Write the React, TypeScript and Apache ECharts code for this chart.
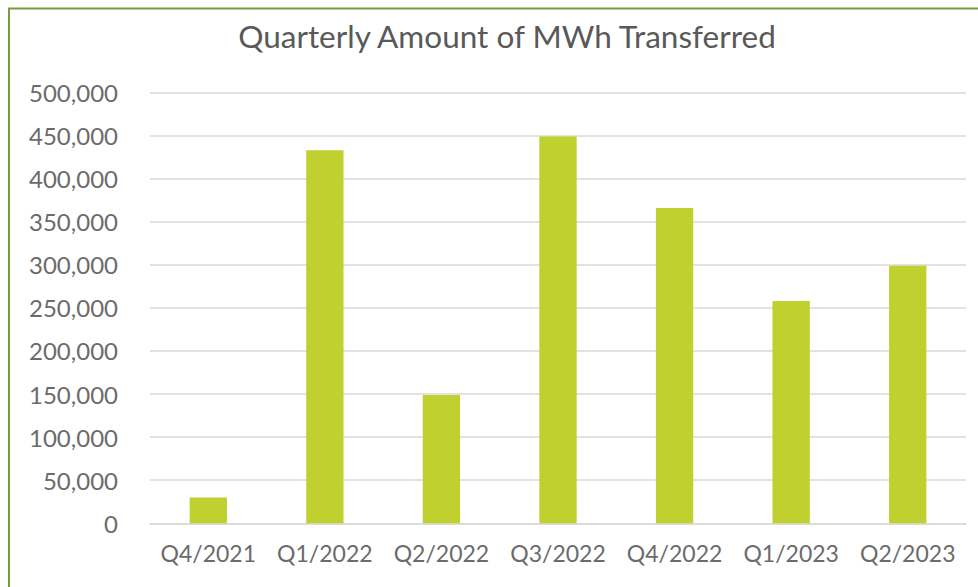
import React, { useEffect, useRef } from "react";
import * as echarts from "echarts";

const categories = ["Q4/2021", "Q1/2022", "Q2/2022", "Q3/2022", "Q4/2022", "Q1/2023", "Q2/2023"];
const mwhValues = [30000, 433000, 149000, 449000, 366000, 258000, 299000];
const yTicks = { min: 0, max: 500000, interval: 50000 };
const titleText = "Quarterly Amount of MWh Transferred";

export default function App() {
  const ref = useRef<HTMLDivElement>(null);
  useEffect(() => {
    if (!ref.current) return;
    const chart = echarts.init(ref.current, null, { renderer: "svg" });
    chart.setOption({
      animation: false,
      backgroundColor: "#ffffff",
      title: {
        text: titleText,
        left: 502,
        textAlign: "center",
        top: 15,
        textStyle: { fontFamily: "Lato", fontSize: 31.5, fontWeight: "normal", color: "#595959" },
      },
      graphic: [
        {
          type: "rect",
          shape: { x: 9, y: 8.5, width: 1000, height: 620 },
          style: { fill: "none", stroke: "#7a9a3c", lineWidth: 2 },
          silent: true,
        },
      ],
      grid: { left: 150, right: 12, top: 92.5, bottom: 63.7 },
      xAxis: {
        type: "category",
        data: categories,
        axisTick: { show: false },
        axisLine: { lineStyle: { color: "#d9d9d9", width: 1.5 } },
        axisLabel: { color: "#6b6b6b", fontFamily: "Lato", fontSize: 23, margin: 18, interval: 0 },
      },
      yAxis: {
        type: "value",
        min: yTicks.min,
        max: yTicks.max,
        interval: yTicks.interval,
        axisLine: { show: false },
        axisTick: { show: false },
        splitLine: { lineStyle: { color: "#d9d9d9", width: 1.5 } },
        axisLabel: {
          color: "#6b6b6b",
          fontFamily: "Lato",
          fontSize: 24,
          margin: 32,
          formatter: (v: number) => v.toLocaleString("en-US"),
        },
      },
      series: [
        {
          type: "bar",
          data: mwhValues,
          barWidth: "32%",
          itemStyle: { color: "#bfd02f" },
        },
      ],
    });
    return () => chart.dispose();
  }, []);
  return (
    <div
      ref={ref}
      style={{ position: "fixed", left: 0, top: 0, width: 978, height: 587 }}
    />
  );
}
